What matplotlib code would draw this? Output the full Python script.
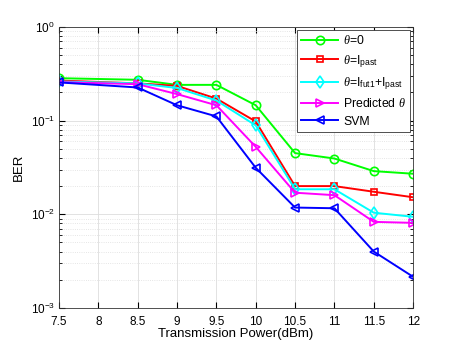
import matplotlib.pyplot as plt
from matplotlib.ticker import LogLocator, NullFormatter

plt.rcParams['font.family'] = ['Liberation Sans', 'DejaVu Sans']
plt.rcParams['mathtext.fontset'] = 'custom'
plt.rcParams['mathtext.it'] = 'Liberation Serif:italic'
plt.rcParams['mathtext.rm'] = 'Liberation Sans'

power = [7.5, 8.5, 9, 9.5, 10, 10.5, 11, 11.5, 12]
ber_theta0 = [0.284, 0.273, 0.241, 0.241, 0.146, 0.045, 0.0394, 0.0289, 0.0271]
ber_past = [0.268, 0.25, 0.235, 0.172, 0.098, 0.020, 0.020, 0.0174, 0.0152]
ber_fut_past = [0.262, 0.25, 0.223, 0.164, 0.089, 0.0185, 0.0185, 0.0104, 0.0094]
ber_pred = [0.258, 0.245, 0.192, 0.146, 0.0525, 0.017, 0.016, 0.0083, 0.0081]
ber_svm = [0.256, 0.226, 0.146, 0.111, 0.0314, 0.0118, 0.0116, 0.0040, 0.00215]

fig = plt.figure(figsize=(4.57, 3.46), dpi=100)
ax = fig.add_axes([0.129, 0.110, 0.775, 0.812])

ax.semilogy(power, ber_theta0, color='#00ff00', marker='o', mfc='none', ms=6, mew=1.2, lw=1.4, label=r'$\theta$=0')
ax.semilogy(power, ber_past, color='#ff0000', marker='s', mfc='none', ms=5, mew=1.2, lw=1.4, label=r'$\theta$=I$_{\mathrm{past}}$')
ax.semilogy(power, ber_fut_past, color='#00ffff', marker='d', mfc='none', ms=6, mew=1.2, lw=1.4, label=r'$\theta$=I$_{\mathrm{fut1}}$+I$_{\mathrm{past}}$')
ax.semilogy(power, ber_pred, color='#ff00ff', marker='>', mfc='none', ms=6, mew=1.2, lw=1.4, label=r'Predicted $\theta$')
ax.semilogy(power, ber_svm, color='#0000ff', marker='<', mfc='none', ms=6, mew=1.2, lw=1.4, label='SVM')

ax.set_xlim(7.5, 12)
ax.set_ylim(1e-3, 1)
ax.set_xticks([7.5, 8, 8.5, 9, 9.5, 10, 10.5, 11, 11.5, 12])
ax.set_xticklabels(['7.5', '8', '8.5', '9', '9.5', '10', '10.5', '11', '11.5', '12'])
ax.yaxis.set_major_locator(LogLocator(base=10, numticks=10))
ax.yaxis.set_minor_locator(LogLocator(base=10, subs=range(2, 10), numticks=10))
ax.yaxis.set_minor_formatter(NullFormatter())
ax.tick_params(which='both', direction='in', top=True, right=True, labelsize=8.5)
ax.tick_params(axis='x', pad=6)
ax.tick_params(axis='y', pad=3)
ax.tick_params(which='major', length=4)
ax.tick_params(which='minor', length=2)

ax.grid(True, which='major', color='#dddddd', lw=0.6)
ax.grid(True, which='minor', axis='y', color='#dddddd', lw=0.6, ls=':')
for s in ax.spines.values():
    s.set_linewidth(0.6)
    s.set_color('#333333')

ax.set_xlabel('Transmission Power(dBm)', fontsize=9.5, labelpad=0)
ax.set_ylabel('BER', fontsize=9.5)

leg = ax.legend(loc='upper right', fontsize=8.8, fancybox=False, edgecolor='#333333',
                framealpha=1, handlelength=3, borderpad=0.35, labelspacing=0.45,
                handletextpad=0.4, borderaxespad=0.25)
leg.get_frame().set_linewidth(0.6)

fig.savefig('out.png', dpi=100)
